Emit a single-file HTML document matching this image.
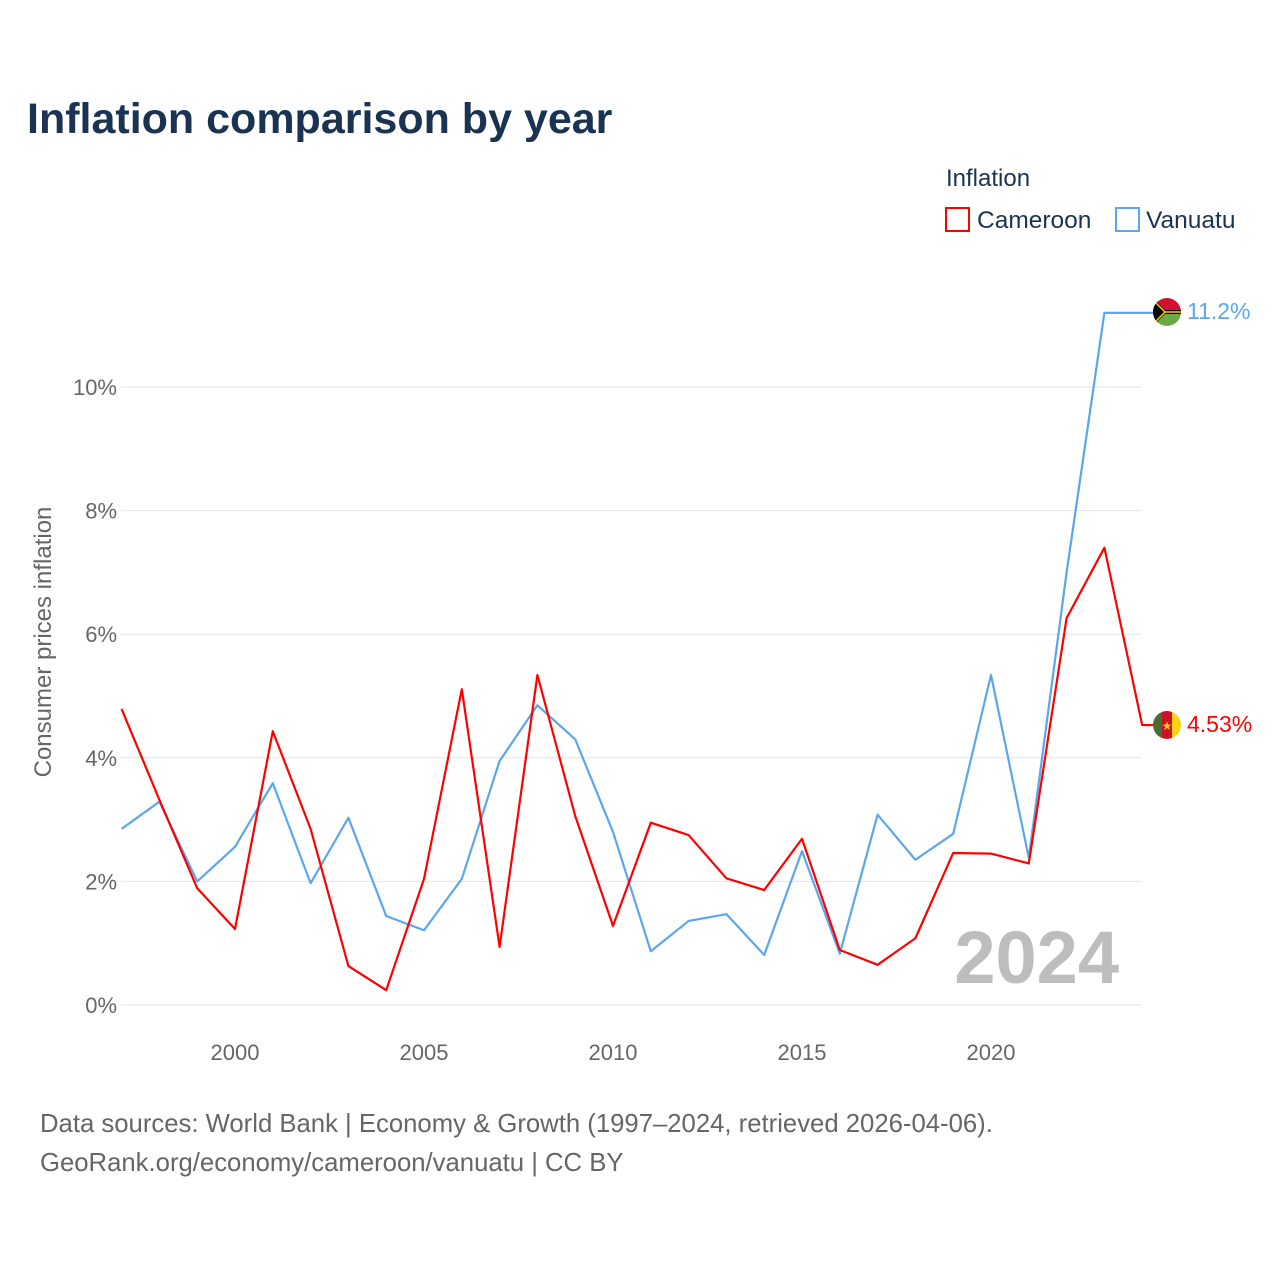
<!DOCTYPE html>
<html><head><meta charset="utf-8"><style>
body{margin:0;background:#fff;width:1280px;height:1280px;overflow:hidden;font-family:"Liberation Sans",sans-serif}
</style></head><body>
<svg width="1280" height="1280" xmlns="http://www.w3.org/2000/svg">
<text x="27" y="133" font-size="43" font-weight="bold" fill="#1a3353">Inflation comparison by year</text>
<text x="946" y="186" font-size="24" fill="#1a3353">Inflation</text>
<g><rect x="946" y="208" width="23" height="23" fill="none" stroke="#f00" stroke-width="2"/><text x="977" y="228" font-size="24.5" fill="#1a3353">Cameroon</text></g>
<g><rect x="1116" y="208" width="23" height="23" fill="none" stroke="#5ba6ee" stroke-width="2"/><text x="1146" y="228" font-size="24.5" fill="#1a3353">Vanuatu</text></g>
<g id="grid"></g>
<g id="yticks"></g>
<g id="xticks"></g>
<text transform="translate(51,642) rotate(-90)" text-anchor="middle" font-size="24" fill="#666">Consumer prices inflation</text>
<text x="1119" y="983" text-anchor="end" font-size="74" font-weight="bold" fill="#bdbdbd">2024</text>
<g id="series"></g>
<defs>
<clipPath id="c1"><circle cx="1167" cy="312" r="14"/></clipPath>
<clipPath id="c2"><circle cx="1167" cy="725" r="14"/></clipPath>
</defs>
<g clip-path="url(#c1)">
<rect x="1153" y="298" width="28" height="14" fill="#d21034"/><rect x="1153" y="312" width="28" height="14" fill="#6ca845"/>
<rect x="1153" y="310" width="28" height="4" fill="#000"/><polygon points="1153,298 1167,312 1153,326" fill="#000"/>
<polyline points="1153,300 1165,312 1153,324" fill="none" stroke="#fdce12" stroke-width="1.5"/><line x1="1165" y1="312" x2="1181" y2="312" stroke="#fdce12" stroke-width="1.5"/></g>
<g clip-path="url(#c2)">
<rect x="1153" y="711" width="10" height="28" fill="#4b6b30"/><rect x="1162" y="711" width="10" height="28" fill="#ce1126"/><rect x="1172" y="711" width="10" height="28" fill="#fcd116"/>
<text x="1167" y="730" text-anchor="middle" font-size="12" fill="#fcd116">★</text></g>
<text x="1187" y="319" font-size="23" fill="#5ba6ee">11.2%</text>
<text x="1187" y="732" font-size="23" fill="#f00">4.53%</text>
<text x="40" y="1132" font-size="25.7" fill="#666">Data sources: World Bank | Economy &amp; Growth (1997–2024, retrieved 2026-04-06).</text>
<text x="40" y="1171" font-size="25.7" fill="#666">GeoRank.org/economy/cameroon/vanuatu | CC BY</text>
</svg>
<script>
const years=[1997,1998,1999,2000,2001,2002,2003,2004,2005,2006,2007,2008,2009,2010,2011,2012,2013,2014,2015,2016,2017,2018,2019,2020,2021,2022,2023,2024];
const cameroon=[4.79,3.32,1.89,1.23,4.43,2.85,0.63,0.24,2.04,5.11,0.94,5.34,3.06,1.28,2.95,2.75,2.05,1.86,2.69,0.89,0.65,1.08,2.46,2.45,2.29,6.26,7.40,4.53];
const vanuatu=[2.85,3.29,2.0,2.56,3.59,1.97,3.03,1.44,1.21,2.04,3.95,4.85,4.30,2.80,0.87,1.36,1.47,0.81,2.49,0.83,3.08,2.35,2.77,5.34,2.38,7.0,11.2,null];
const yTicks=[0,2,4,6,8,10];
const xTicks=[2000,2005,2010,2015,2020];
const NS="http://www.w3.org/2000/svg";
const X=y=>121.6+(y-1997)*37.8;
const Y=v=>1005-v*61.8;
function mk(t,a,p){const e=document.createElementNS(NS,t);for(const k in a)e.setAttribute(k,a[k]);p.appendChild(e);return e;}
const g=document.getElementById('grid'),yt=document.getElementById('yticks'),xt=document.getElementById('xticks'),s=document.getElementById('series');
yTicks.forEach(v=>{
 const l=mk('line',{x1:121,x2:1142,y1:Y(v),y2:Y(v),stroke:'#e6e6e6','stroke-width':1},g);
 
 
 const t=mk('text',{x:117,y:Y(v)+8,'text-anchor':'end','font-size':22,fill:'#666'},yt);t.textContent=v+'%';
 
 
});
xTicks.forEach(v=>{
 const t=mk('text',{x:X(v),y:1060,'text-anchor':'middle','font-size':22,fill:'#666'},xt);t.textContent=v;
 
 
});
function line(vals,color,name){
 const pts=[];vals.forEach((v,i)=>{if(v!=null)pts.push(X(years[i])+','+Y(v));});
 const last=pts[pts.length-1].split(',');
 pts.push('1153,'+last[1]);
 const p=mk('polyline',{points:pts.join(' '),fill:'none',stroke:color,'stroke-width':2.2,'stroke-linejoin':'round'},s);
 
 
}
line(vanuatu,'#5ba6ee','vanuatu-line');
line(cameroon,'#f00','cameroon-line');
</script>
</body></html>
